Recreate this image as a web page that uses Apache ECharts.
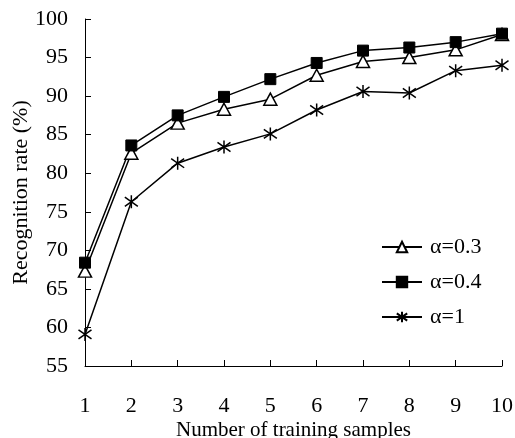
<!DOCTYPE html>
<html><head><meta charset="utf-8">
<script src="https://cdn.jsdelivr.net/npm/echarts@6/dist/echarts.min.js"></script>
<style>html,body{margin:0;padding:0;background:#fff}#c{width:515px;height:438px}</style>
</head><body><div id="c"></div>
<script>
var categories = ['1','2','3','4','5','6','7','8','9','10'];
var seriesNames = ['\u03b1=0.3','\u03b1=0.4','\u03b1=1'];
var alpha03 = [67.3, 82.6, 86.5, 88.3, 89.6, 92.7, 94.5, 95.0, 96.0, 98.0];
var alpha04 = [68.4, 83.6, 87.5, 89.9, 92.2, 94.3, 95.9, 96.3, 97.0, 98.1];
var alpha1  = [59.1, 76.3, 81.3, 83.4, 85.1, 88.2, 90.6, 90.4, 93.3, 94.0];
var yTicks = {min: 55, max: 100, interval: 5};

var font = '"Liberation Serif","Times New Roman",serif';
var star = 'path://M5,0L5,10M0,1.5L10,8.5M0,8.5L10,1.5';
var chart = echarts.init(document.getElementById('c'), null, {renderer:'canvas'});
chart.setOption({
  animation: false,
  backgroundColor: '#fff',
  grid: {left: 85, right: 13, top: 19, bottom: 72, containLabel: false, outerBoundsMode: 'none'},
  legend: {
    orient: 'vertical', left: 376, top: 231,
    itemWidth: 40, itemHeight: 13, itemGap: 13,
    textStyle: {fontFamily: font, fontSize: 22, color: '#000', padding: [0,0,0,3]},
    data: seriesNames
  },
  xAxis: {
    type: 'category', data: categories, boundaryGap: false,
    name: 'Number of training samples', nameLocation: 'middle', nameGap: 54, nameMoveOverlap: false,
    nameTextStyle: {fontFamily: font, fontSize: 21, color: '#000'},
    axisLine: {lineStyle: {color: '#000', width: 1}},
    axisTick: {inside: true, length: 6, lineStyle: {color: '#000'}, alignWithLabel: true},
    axisLabel: {fontFamily: font, fontSize: 22, color: '#000', margin: 29},
    splitLine: {show: false}
  },
  yAxis: {
    type: 'value', min: yTicks.min, max: yTicks.max, interval: yTicks.interval,
    name: 'Recognition rate (%)', nameLocation: 'middle', nameGap: 53, nameMoveOverlap: false,
    nameTextStyle: {fontFamily: font, fontSize: 22, color: '#000'},
    axisLine: {show: true, lineStyle: {color: '#000', width: 1}},
    axisTick: {show: true, inside: true, length: 6, lineStyle: {color: '#000'}},
    axisLabel: {fontFamily: font, fontSize: 22, color: '#000', margin: 17},
    splitLine: {show: false}
  },
  series: [
    {name: seriesNames[0], type: 'line', data: alpha03, symbol: 'triangle', symbolSize: [13, 12],
     lineStyle: {color: '#000', width: 1.5},
     itemStyle: {color: '#fff', borderColor: '#000', borderWidth: 1.5}},
    {name: seriesNames[1], type: 'line', data: alpha04, symbol: 'rect', symbolSize: 11,
     lineStyle: {color: '#000', width: 1.5},
     itemStyle: {color: '#000', borderColor: '#000', borderWidth: 1}},
    {name: seriesNames[2], type: 'line', data: alpha1, symbol: star, symbolSize: 13,
     lineStyle: {color: '#000', width: 1.5},
     itemStyle: {color: 'none', borderColor: '#000', borderWidth: 1.5}}
  ]
});
</script></body></html>
